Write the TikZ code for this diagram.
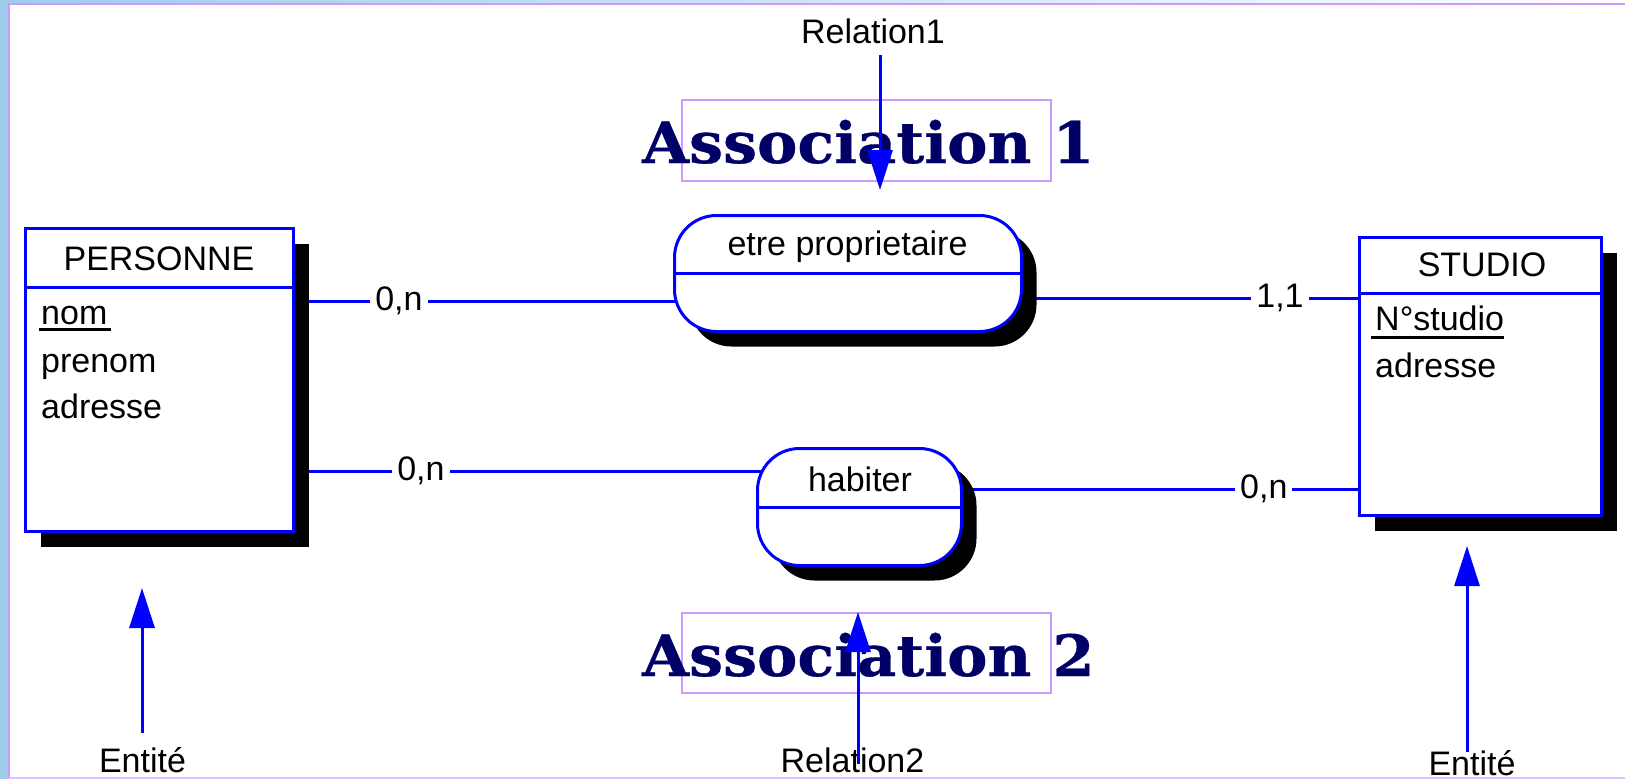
\documentclass[tikz,border=0pt]{standalone}
\usepackage{fontspec}
\setmainfont{Liberation Sans}
\newfontfamily\assocfont[FakeStretch=1.06, FakeBold=0.6]{DejaVu Serif}
\usepackage{xcolor}
\usepackage{tikz}
\usetikzlibrary{arrows.meta,shadows,backgrounds}

\definecolor{mcdblue}{RGB}{0,0,255}
\definecolor{mcdnavy}{RGB}{0,0,102}
\definecolor{mcdlilac}{RGB}{204,153,255}
\definecolor{mcdsky}{RGB}{160,204,236}

\begin{document}
\begin{tikzpicture}[x=1pt, y=-1pt,
    every node/.style={font=\fontsize{34}{40}\selectfont},
    entite/.style={draw=mcdblue, line width=3pt, fill=white, inner sep=0pt,
      drop shadow={shadow xshift=15pt, shadow yshift=-15pt, fill=black, opacity=1}},
    relation/.style={entite, rounded corners=42pt},
    attribut/.style={anchor=base west, inner sep=0pt},
    cardinalite/.style={fill=white, inner xsep=5pt, inner ysep=1pt},
    lien/.style={draw=mcdblue, line width=3pt},
    renvoi/.style={draw=mcdblue, line width=3pt, -{Triangle[length=40pt, width=25pt]}},
    legende/.style={anchor=base, inner sep=2pt},
    titre/.style={anchor=base west, inner sep=0pt, text=mcdnavy,
      font=\assocfont\bfseries\fontsize{57}{60}\selectfont},
    cadre/.style={draw=mcdlilac, line width=1.5pt}]
  \useasboundingbox (0,0) rectangle (1625,779);
  \begin{scope}[on background layer]
    \fill[mcdsky] (0,0) rectangle (1625,779);
    \shade[left color=mcdsky, right color=white] (0,0) rectangle (1625,4);
    \fill[white] (9,4) rectangle (1625,779);
    \draw[mcdlilac, line width=2pt] (9,779) -- (9,4) -- (1625,4);
    \draw[mcdlilac!60, line width=2pt] (9,778) -- (1625,778);
  \end{scope}

  \node[entite, minimum width=268pt, minimum height=303pt] (personne) at (159.5,380) {};
  \draw[lien] (personne.west |- 0,287) -- (personne.east |- 0,287);
  \node (personne-nom) at (159,259) {PERSONNE};
  \node[attribut] (nom) at (41,324) {nom};
  \node[attribut] (prenom) at (41,372) {prenom};
  \node[attribut] (adresse1) at (41,418) {adresse};
  \draw[line width=3pt] ([shift={(-2pt,-5pt)}]nom.base west) -- ([shift={(3pt,-5pt)}]nom.base east);

  \node[entite, minimum width=242pt, minimum height=278pt] (studio) at (1480.5,376.5) {};
  \draw[lien] (studio.west |- 0,293) -- (studio.east |- 0,293);
  \node (studio-nom) at (1482,265) {STUDIO};
  \node[attribut] (numstudio) at (1375,330) {N°studio};
  \node[attribut] (adresse2) at (1375,377) {adresse};
  \draw[line width=3pt] ([shift={(-4pt,-7pt)}]numstudio.base west) -- ([shift={(0pt,-7pt)}]numstudio.base east);

  \node[relation, minimum width=347pt, minimum height=116pt] (proprio) at (848,273.5) {};
  \draw[lien] (proprio.west) -- (proprio.east);
  \node[anchor=base] (proprio-nom) at (847.5,255) {etre proprietaire};
  \node[relation, minimum width=204pt, minimum height=117pt] (habiter) at (859.5,507) {};
  \draw[lien] (habiter.west) -- (habiter.east);
  \node[anchor=base] (habiter-nom) at (860,491) {habiter};

  \begin{scope}[on background layer]
    \draw[lien] (personne.east |- 0,301) -- node[cardinalite, pos=.188] {0,n} (proprio.center |- 0,301);
    \draw[lien] (proprio.center |- 0,298) -- node[cardinalite, pos=.847] {1,1} (studio.west |- 0,298);
    \draw[lien] (personne.east |- 0,471) -- node[cardinalite, pos=.223] {0,n} (habiter.center |- 0,471);
    \draw[lien] (habiter.center |- 0,489) -- node[cardinalite, pos=.811] {0,n} (studio.west |- 0,489);
  \end{scope}

  \draw[cadre] (682,100) rectangle (1051,181);
  \node[titre] (association1) at (642,163) {Association 1};
  \draw[cadre] (682,613) rectangle (1051,693);
  \node[titre] (association2) at (642,676) {Association 2};

  \node[legende] (relation1) at (873,43) {Relation1};
  \coordinate (relation1-cible) at (880,190);
  \draw[renvoi, shorten <=9pt] (relation1.south -| relation1-cible) -- (relation1-cible);
  \node[legende] (relation2) at (852.5,772) {Relation2};
  \coordinate (relation2-cible) at (858,612);
  \draw[renvoi, shorten <=11pt] (relation2.south -| relation2-cible) -- (relation2-cible);
  \node[legende] (entite1) at (142.5,772) {Entité};
  \coordinate (entite1-cible) at (142,588);
  \draw[renvoi, shorten <=12pt] (entite1.north -| entite1-cible) -- (entite1-cible);
  \node[legende] (entite2) at (1472,775) {Entité};
  \coordinate (entite2-cible) at (1467,546);
  \draw[renvoi, shorten <=-4pt] (entite2.north -| entite2-cible) -- (entite2-cible);
\end{tikzpicture}
\end{document}
